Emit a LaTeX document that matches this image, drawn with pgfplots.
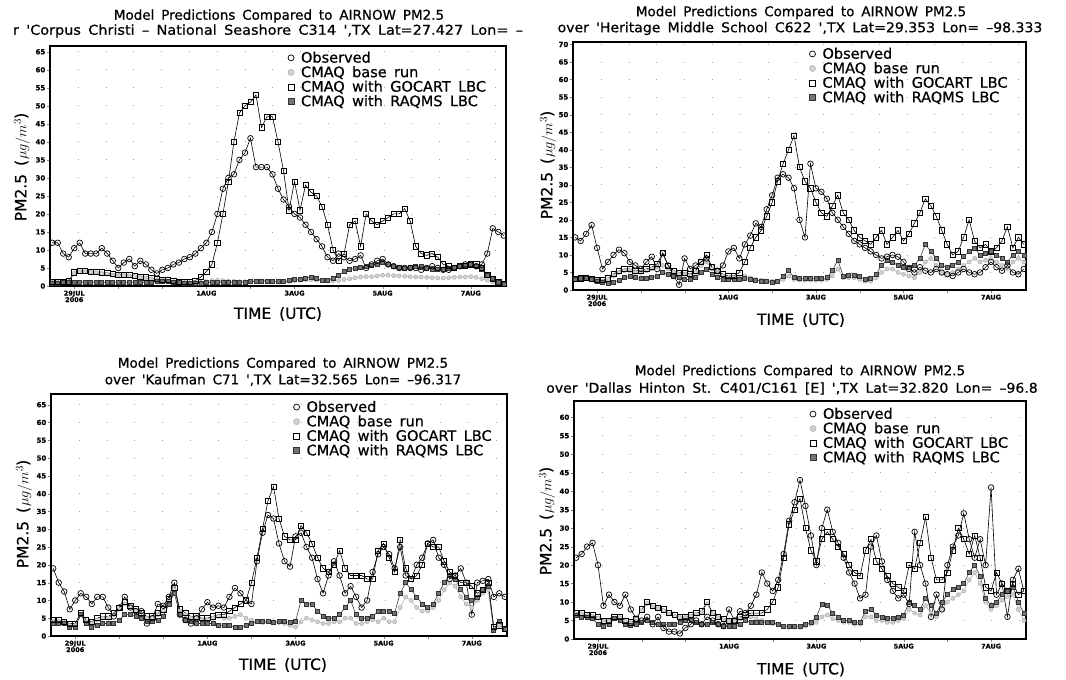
\documentclass[border=0pt]{standalone}
\usepackage{fontspec}
\setmainfont{DejaVu Sans}[WordSpace=1.6, FakeBold=0.6]
\usepackage{graphicx}
\usepackage{pgfplots}
\pgfplotsset{compat=1.18}
\usepackage{pgfplotstable}

\pgfplotstableread{
x o b g r
0.5 12 1 1.2 0.8
0.625 12 1 1.2 0.8
0.75 9 1 1.2 0.9
0.875 8 1.2 1.3 0.9
1.0 10.5 3.5 3.8 1.0
1.125 12 4 4.3 1.1
1.25 9 4 4.2 1.0
1.375 9 3.8 4.0 0.9
1.5 9 3.7 3.9 1.0
1.625 10.5 3.5 3.8 1.0
1.75 9 3.3 3.6 1.1
1.875 7 3 3.3 1.0
2.0 5 3 3.2 1.0
2.125 6.5 3 3.1 0.9
2.25 7.5 2.8 3.0 1.0
2.375 5.5 2.6 2.8 1.0
2.5 7 2.5 2.6 1.1
2.625 6 2.3 2.4 1.0
2.75 4.5 2.0 2.2 1.0
2.875 3.5 1.8 2.0 1.2
3.0 4.5 1.6 1.8 1.3
3.125 5 1.4 1.6 1.2
3.25 6 1.2 1.4 1.0
3.375 6.5 1.0 1.2 0.9
3.5 7.5 1.0 1.1 0.8
3.625 8 0.9 1.2 0.8
3.75 9 0.9 1.5 0.8
3.875 10.5 1.0 2.5 0.8
4.0 12 1.2 4 0.9
4.125 15 1.5 6 1.0
4.25 20 1.6 12 1.0
4.375 27 1.5 20 1.0
4.5 30 1.4 29 1.0
4.625 31 1.3 40 1.0
4.75 35 1.2 48 1.1
4.875 37 1.2 50 1.1
5.0 41 1.3 51 1.2
5.125 33 1.4 53 1.3
5.25 33 1.4 44 1.4
5.375 33 1.3 47 1.4
5.5 31 1.3 47 1.3
5.625 27 1.2 40 1.3
5.75 24 1.2 32 1.2
5.875 22 1.3 21 1.5
6.0 20 1.5 29 1.8
6.125 19 1.6 21 1.9
6.25 17 1.8 28 2.2
6.375 15 1.7 26 2.4
6.5 13 1.6 25 2.0
6.625 11 1.5 22 1.6
6.75 8 1.4 17 1.5
6.875 7 1.4 10 2.0
7.0 9 1.5 7 3.0
7.125 8 1.8 9 4.0
7.25 7 2.0 17 4.5
7.375 7.5 2.3 18 5.0
7.5 8.5 2.5 11 5.2
7.625 5 2.6 20 5.5
7.75 6 2.6 18 5.8
7.875 7 2.8 17 6.0
8.0 7.5 3.0 18 6.5
8.125 6 3.0 19 6.0
8.25 5.5 2.9 20 5.5
8.375 5 2.8 20 5.2
8.5 5 2.7 21.5 5.0
8.625 5 2.6 18 5.3
8.75 5 2.5 11 5.6
8.875 4.5 2.5 9 5.5
9.0 5 2.4 8.5 5.0
9.125 5.5 2.3 9 4.6
9.25 5 2.2 8 4.5
9.375 4.5 2.2 6 4.6
9.5 4.5 2.3 5.5 4.8
9.625 5 2.4 5 5.2
9.75 5.5 2.5 5.5 5.5
9.875 6 2.5 5.5 5.8
10.0 6 2.6 6 6.0
10.125 5.5 2.4 6 5.5
10.25 6 2.0 5 4.5
10.375 9 1.6 3 3.0
10.5 16 1.2 2 2.0
10.625 15 0.9 1 1.0
10.75 14 0.6 0.5 0.6
}\dataA

\pgfplotstableread{
x o b g r
0.5 15 3 3.2 3
0.625 14 3 3.3 3.2
0.75 16 3.2 3.4 3.3
0.875 18.5 3 3.2 3
1.0 12 2.8 3 2.5
1.125 6 2.5 2.8 2.2
1.25 8 3 3.3 2
1.375 10 4 4.5 2.2
1.5 11.5 5 5.5 2.8
1.625 10.5 5.5 6 3.5
1.75 8 5.5 6 3.8
1.875 7 5 5.5 3.6
2.0 6 5 5.5 3.3
2.125 8 5.5 6 3.2
2.25 9.5 6 6.5 3.5
2.375 6 6.5 7.5 4
2.5 10.5 7 10.5 5
2.625 7 6 7 4.5
2.75 4 5 5.5 4
2.875 1.5 4.5 5 3.5
3.0 9 4.5 5 3
3.125 6 4 4.5 3
3.25 7 5 5.5 3.5
3.375 8 7 8 5
3.5 9 8 10 6
3.625 6.5 6 6.5 4.5
3.75 5.5 5 5.5 3.5
3.875 7 4 4.5 3
4.0 11 3.5 4 3
4.125 12 3.5 4 3
4.25 9 3.5 5 3
4.375 13 4 8 3.3
4.5 15.5 3.5 12 3
4.625 19 3 15 2.8
4.75 18 2.8 17 2.6
4.875 23 2.6 21 2.4
5.0 27 2.5 25 2.3
5.125 32 2.5 31 2.5
5.25 33 3 36 4
5.375 32 4 40 5.5
5.5 29 3 44 3.5
5.625 20 2.8 35 3.2
5.75 15 2.8 31 3.3
5.875 36 2.8 29 3.4
6.0 29 2.8 25 3.3
6.125 28 2.8 22 3.2
6.25 26 3 21 3.5
6.375 22 4 24 5.5
6.5 20 6 27 8.5
6.625 18 3.5 22 4
6.75 16 3.5 20 4.2
6.875 14 3.5 17 4.3
7.0 13 3 15 3.8
7.125 12 2.5 14 3
7.25 11 2.5 13 3.2
7.375 10 3.5 15 4.5
7.5 9 5 17 7
7.625 9.5 6 13 8.5
7.75 10 6 15 8
7.875 9.5 5 17 7
8.0 8 4.5 14 6.5
8.125 6 4 16 6.5
8.25 5 3.5 19 7
8.375 6.5 5 22 9
8.5 5.5 8 26 13
8.625 5 9 24 11
8.75 6 7 21 9
8.875 5 5 17 7
9.0 4.5 4.5 13 6.5
9.125 4 5 10 7
9.25 5 6 11 8
9.375 6 7 15 9.5
9.5 5 8 20 11
9.625 4.5 9 14 12
9.75 5 8 12 10
9.875 6.5 8.5 13 10.5
10.0 8 9 11 11
10.125 6.5 8 12 10
10.25 5.5 7 14 9
10.375 7 6 18 8
10.5 5 8 12 10
10.625 4.5 9 15 11
10.75 6 8 13 10
}\dataB

\pgfplotstableread{
x o b g r
0.5 19 4 4.5 3.5
0.625 15 4 4.5 3.5
0.75 12.5 3.8 4 3.5
0.875 7.5 3 3.5 2.5
1.0 10 3 3.5 2.5
1.125 12 6 6.5 6
1.25 11 4 4.5 3.5
1.375 9 3.5 4 2.5
1.5 11 4.5 5 3
1.625 11 5 5.5 3.5
1.75 8 5 5.5 3.5
1.875 5.5 6 6.5 3.5
2.0 8 7.5 8 4.5
2.125 11 9 9.5 6
2.25 8 8 8.5 6
2.375 7 7 7.5 5.5
2.5 7 6 6.5 5
2.625 3.5 5 5.5 4
2.75 5 5 5.5 4
2.875 9 6 6.5 4.5
3.0 8.5 7 7.5 5.5
3.125 11 10 10.5 9
3.25 15 13 13.5 12
3.375 6 7 7.5 6
3.5 4.5 6 6.5 4.5
3.625 3.5 5 5.5 4
3.75 5 5 5.5 3.5
3.875 7.5 4.5 5 3.5
4.0 9.5 4.5 5 3.5
4.125 8 5 5.5 3.5
4.25 8.5 5.5 6 3
4.375 8 5 6 3
4.5 11 5 7 3
4.625 13.5 5.5 8 2.5
4.75 12 6 9 2.5
4.875 10 5 10 3
5.0 9 4.5 15 3.5
5.125 21 4 22 4
5.25 29 3.8 30 4
5.375 34 4 38 4
5.5 33 4 42 3.8
5.625 26 3.8 33 4
5.75 21 3.5 28 4
5.875 19.5 3 27 3.8
6.0 28 2.5 27 4
6.125 29 4 31 10
6.25 25 5 29 9
6.375 22 4.5 26 9
6.5 16 4 22 7
6.625 12 3.5 19 5.5
6.75 17 3.5 18 5
6.875 21 4 20 5
7.0 17 4 24 6
7.125 12 5 19 8
7.25 14 5 17 10
7.375 11 3.5 17 6
7.5 8 3.5 17 5
7.625 10 4 16 5
7.75 18 4.5 16 5.5
7.875 23 4 24 7
8.0 25 5 26 7
8.125 23 4 22 7
8.25 19 4 18 6.5
8.375 25 8 27 12
8.5 17 11 19 15
8.625 16 10 16 13
8.75 20 8 17 11
8.875 22 7 20 9
9.0 26 7 26 8
9.125 27 8 25 9
9.25 22 10 25 12
9.375 20 13 21 15
9.5 16 15 18 17
9.625 17 14 17 16
9.75 19 11 15 13
9.875 15 9 15 11
10.0 6 8 14 10
10.125 15 10 12 11
10.25 15.5 12 13 13
10.375 16 13 15 14
10.5 11 1.5 2.5 1.5
10.625 12 3 3 4
10.75 11 2 2 2
}\dataC

\pgfplotstableread{
x o b g r
0.5 22 6.8 7 6.5
0.625 23 6.8 7 6
0.75 25 6.3 6.5 6
0.875 26 6.2 6.5 5.5
1.0 20 5.7 6 4
1.125 9 4.8 5 3.5
1.25 12 4.8 5 4
1.375 10 5.7 6 5.5
1.5 9 5.8 6 5
1.625 12 4.8 5 4
1.75 8 4.3 4.5 3.8
1.875 5.5 5.3 5.5 4
2.0 5 7.7 8 4.5
2.125 6 9.6 10 5
2.25 4 8.7 9 4.5
2.375 6 8.2 8.5 4
2.5 3 7.7 8 4
2.625 2 6.8 7 4
2.75 2 6.2 6.5 4
2.875 1.5 5.8 6 4.5
3.0 3 5.8 6 5
3.125 4 6.2 6.5 5
3.25 5 6.7 7 4.5
3.375 4 7.2 7.5 4
3.5 6 9.5 10 4
3.625 5 6.8 7 4.5
3.75 4 5.8 6 4
3.875 3.5 5.2 5.5 3.5
4.0 8 4.8 5 3.5
4.125 5 4.8 5 3.5
4.25 7.5 5.5 6 4
4.375 7 6 6.5 5
4.5 9 6 7 4.5
4.625 12 5.5 7 4.5
4.75 18 5 7 4.5
4.875 15 4.5 8 4.5
5.0 13 4.2 10 4.5
5.125 16 3.8 14 4
5.25 23 3.3 22 3.5
5.375 32 3.2 31 3.5
5.5 37 3.2 35 3.5
5.625 43 3.2 38 3.5
5.75 36 3.5 30 4
5.875 28 4 24 4.5
6.0 20 4.5 21 6
6.125 30 6 27 9.5
6.25 35 6.5 29 9
6.375 29 5.5 27 7
6.5 26 5 25 6
6.625 22 4.5 23 5
6.75 18 4.5 20 5
6.875 15 4 18 4.5
7.0 11 4 17 4.5
7.125 12 6 24 7.5
7.25 25 6 27 8
7.375 28 5 21 6.5
7.5 21 5 19 6
7.625 16 4.5 17 5.5
7.75 13 4.5 15 5.5
7.875 11 5 14 6
8.0 12 5.5 13 6.5
8.125 9.5 8 20 10
8.25 29 7 19 9
8.375 20 6.5 26 8
8.5 15 9 33 11
8.625 6 7 22 9
8.75 12 6 16 7
8.875 8 8 16 10
9.0 20 10 18 12
9.125 25 11 24 13.5
9.25 28 12 30 14
9.375 34 13 27 15
9.5 27 16 23 18
9.625 22 18 28 20
9.75 27 15 22 17
9.875 20 10 14 11
10.0 41 8 13 9
10.125 12 9 18 10
10.25 15 10.5 15 12
10.375 6 11.5 13 13
10.5 16 12 15 14
10.625 19 8 12 10
10.75 13 5 13 7
}\dataD

\pgfplotsset{
  pmstyle/.style={
    scale only axis, anchor=north west,
    xmin=0.45, xmax=10.8, ymin=0,
    axis line style={line width=1.2pt},
    tick align=outside, tick pos=left,
    major tick length=3pt,
    ytick distance=5,
    xtick={1,2,...,10},
    xticklabels={{29JUL\\2006},{},{},{1AUG},{},{3AUG},{},{5AUG},{},{7AUG}},
    x tick label style={font=\fontsize{6.5}{6.5}\selectfont\bfseries, align=center, inner sep=1.5pt},
    y tick label style={font=\fontsize{7}{7}\selectfont\bfseries, inner sep=1.5pt},
    /pgf/number format/assume math mode=true,
    ymajorgrids,
    grid style={gray!70, line width=0.8pt, dash pattern=on 0.8pt off 27pt},
    legend cell align=left,
    legend style={draw=none, fill=none, anchor=north west,
      font=\fontsize{14.5}{15}\selectfont, row sep=0pt,
      nodes={inner sep=1pt},
      /tikz/every odd column/.append style={column sep=6pt}},
    legend image code/.code={\draw[##1, only marks, mark size=3pt] plot coordinates {(0.1cm,0cm)};},
  },
  obs/.style={black, line width=0.6pt, mark=o, mark size=2.8pt, mark options={line width=0.7pt, solid}},
  base/.style={gray!60, line width=0.6pt, mark=*, mark size=2pt, mark options={fill=gray!35, draw=gray!60, solid}},
  goc/.style={black, line width=0.6pt, mark=square, mark size=2.6pt, mark options={line width=0.7pt, solid}},
  raq/.style={black!75, line width=0.6pt, mark=square*, mark size=2pt, mark options={fill=black!55, draw=black!80, solid}},
}

\newcommand{\fourplots}[1]{%
  \addlegendimage{obs}\addlegendentry{Observed}
  \addlegendimage{base}\addlegendentry{CMAQ base run}
  \addlegendimage{goc}\addlegendentry{CMAQ with GOCART LBC}
  \addlegendimage{raq}\addlegendentry{CMAQ with RAQMS LBC}
  \addplot[base, forget plot] table[x=x, y=b] {#1};
  \addplot[raq, forget plot] table[x=x, y=r] {#1};
  \addplot[goc, forget plot] table[x=x, y=g] {#1};
  \addplot[obs, forget plot] table[x=x, y=o] {#1};
}

\begin{document}
\begin{tikzpicture}
\path[use as bounding box] (0,0) rectangle (1066pt,-680pt);

\tikzset{ttl/.style={font=\fontsize{13.5}{15}\selectfont, inner sep=0pt},
         lab/.style={font=\fontsize{15.5}{17}\selectfont, inner sep=0pt}}

% Panel 1
\begin{axis}[pmstyle, at={(50pt,-46pt)}, width=456pt, height=240pt, ymax=66.6,
  legend style={at={(0.515,0.99)}}]
\fourplots{\dataA}
\end{axis}
\node[ttl] at (279pt,-16pt) {Model Predictions Compared to AIRNOW PM2.5};
\node[ttl] at (268pt,-31pt) {\scalebox{1.07}[1]{r \textquotesingle Corpus Christi -- National Seashore C314 \textquotesingle,TX Lat=27.427 Lon= --}};
\node[lab, rotate=90] at (22pt,-167pt) {PM2.5 ($\mu g/m^{3}$)};
\node[lab] at (278pt,-314pt) {TIME (UTC)};

% Panel 2
\begin{axis}[pmstyle, at={(573pt,-42pt)}, width=453pt, height=248pt, ymax=70.7,
  legend style={at={(0.515,0.99)}}]
\fourplots{\dataB}
\end{axis}
\node[ttl] at (801pt,-12.5pt) {Model Predictions Compared to AIRNOW PM2.5};
\node[ttl] at (800pt,-28.5pt) {\scalebox{1.04}[1]{over \textquotesingle Heritage Middle School C622 \textquotesingle,TX Lat=29.353 Lon= --98.333}};
\node[lab, rotate=90] at (548pt,-165pt) {PM2.5 ($\mu g/m^{3}$)};
\node[lab] at (801pt,-320pt) {TIME (UTC)};

% Panel 3
\begin{axis}[pmstyle, at={(51pt,-394pt)}, width=456pt, height=242pt, ymax=68,
  legend style={at={(0.525,0.985)}}]
\fourplots{\dataC}
\end{axis}
\node[ttl] at (283pt,-364pt) {Model Predictions Compared to AIRNOW PM2.5};
\node[ttl] at (283pt,-380pt) {over \textquotesingle Kaufman C71 \textquotesingle,TX Lat=32.565 Lon= --96.317};
\node[lab, rotate=90] at (24pt,-514pt) {PM2.5 ($\mu g/m^{3}$)};
\node[lab] at (283pt,-665pt) {TIME (UTC)};

% Panel 4
\begin{axis}[pmstyle, at={(574pt,-401pt)}, width=452pt, height=238pt, ymax=64.4,
  legend style={at={(0.515,0.985)}}]
\fourplots{\dataD}
\end{axis}
\node[ttl] at (800pt,-371.5pt) {Model Predictions Compared to AIRNOW PM2.5};
\node[ttl] at (792pt,-388.5pt) {\scalebox{1.04}[1]{over \textquotesingle Dallas Hinton St. C401/C161 [E] \textquotesingle,TX Lat=32.820 Lon= --96.8}};
\node[lab, rotate=90] at (547pt,-521pt) {PM2.5 ($\mu g/m^{3}$)};
\node[lab] at (801pt,-669.5pt) {TIME (UTC)};
\end{tikzpicture}
\end{document}
